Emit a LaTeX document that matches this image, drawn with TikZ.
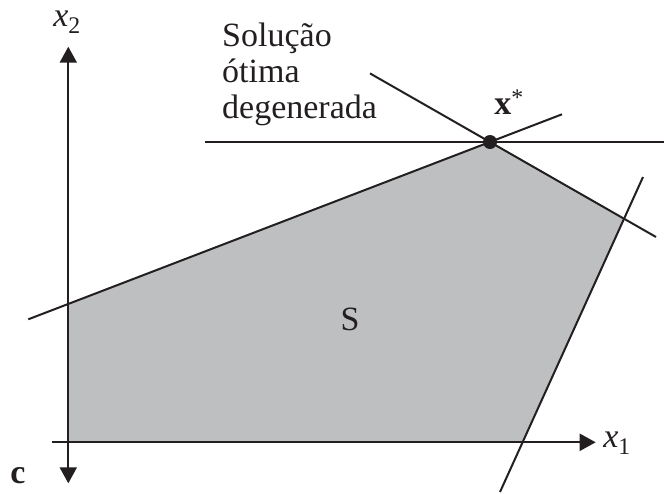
\documentclass[tikz,border=0pt]{standalone}
\usepackage{fontspec}
\setmainfont{Liberation Serif}
\usetikzlibrary{arrows.meta}
\definecolor{regionfill}{HTML}{BEBFC1}
\definecolor{ink}{HTML}{231F20}
\begin{document}
\begin{tikzpicture}[x=1pt,y=-1pt,
  cline/.style={draw=ink, line width=2pt},
  axisline/.style={draw=ink, line width=2.2pt},
  tip/.tip={Triangle[length=16pt,width=17pt]},
  lbl/.style={font=\fontsize{34}{36}\selectfont, text=ink, inner sep=0pt}]
\useasboundingbox (0,0) rectangle (664,493);
% key points
\coordinate (xs) at (490,142);
\coordinate (l1a) at (28.3,319.3);
\coordinate (l1b) at (562,114.3);
\coordinate (l2a) at (370,73.4);
\coordinate (l2b) at (656,237);
\coordinate (l3a) at (205,142);
\coordinate (l3b) at (664,142);
\coordinate (l4a) at (643,177);
\coordinate (l4b) at (500,492);
\coordinate (ytop) at (68.3,46.7);
\coordinate (ybot) at (68.3,483.3);
\coordinate (xleft) at (51.7,442.3);
\coordinate (xright) at (595.7,442.3);
\coordinate (p1) at (intersection of l1a--l1b and ytop--ybot);
\coordinate (p3) at (intersection of l2a--l2b and l4a--l4b);
\coordinate (p4) at (intersection of l4a--l4b and xleft--xright);
\coordinate (p5) at (intersection of ytop--ybot and xleft--xright);
% feasible region
\fill[regionfill] (p1) -- (xs) -- (p3) -- (p4) -- (p5) -- cycle;
% constraint lines
\draw[cline] (l1a) -- (l1b);
\draw[cline] (l2a) -- (l2b);
\draw[cline] (l3a) -- (l3b);
\draw[cline] (l4a) -- (l4b);
% axes
\draw[axisline, tip-tip] (ytop) -- (ybot);
\draw[axisline, -tip] (xleft) -- (xright);
% optimum
\node[circle, fill=ink, inner sep=0pt, minimum size=14pt] (dot) at (xs) {};
% labels
\node[lbl, font=\fontsize{34}{36}\selectfont\bfseries] (xlab) at (509,102) {x\textsuperscript{\mdseries *}};
\node[lbl] (x1lab) at (617,443) {\textit{x}\textsubscript{1}};
\node[lbl] (x2lab) at (67,22) {\textit{x}\textsubscript{2}};
\node[lbl, font=\fontsize{34}{36}\selectfont\bfseries] (clab) at (18,476) {c};
\node[lbl] (slab) at (350,319) {S};
\node[lbl, align=left, anchor=base west] (sol) at (222,118) {Solução\\ótima\\degenerada};
\end{tikzpicture}
\end{document}
